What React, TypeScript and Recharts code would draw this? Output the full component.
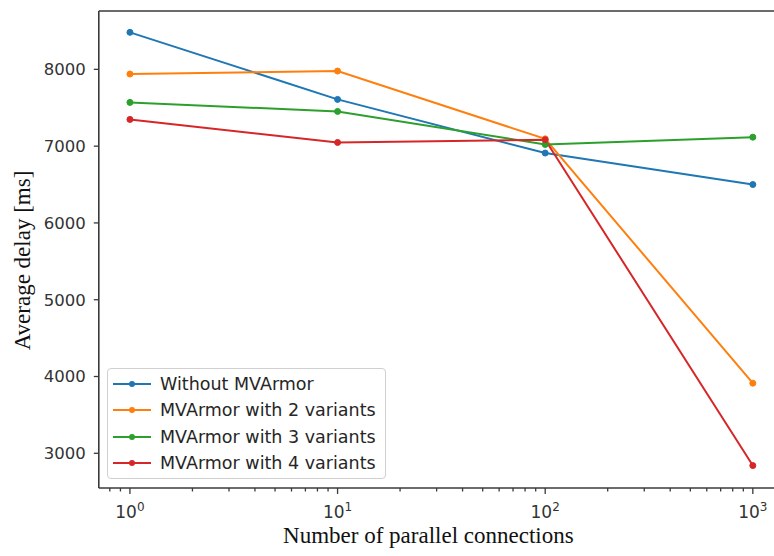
import {
  LineChart,
  Line,
  XAxis,
  YAxis,
  ReferenceLine,
} from "recharts";

const connections = [1, 10, 100, 1000];
const withoutMVArmor = [8482, 7609, 6910, 6500];
const twoVariants = [7939, 7978, 7095, 3913];
const threeVariants = [7570, 7452, 7022, 7117];
const fourVariants = [7348, 7048, 7083, 2840];

const seriesNames = [
  "Without MVArmor",
  "MVArmor with 2 variants",
  "MVArmor with 3 variants",
  "MVArmor with 4 variants",
];
const seriesKeys = ["s0", "s1", "s2", "s3"];
const colors = ["#1f77b4", "#ff7f0e", "#2ca02c", "#d62728"];

const yTicks = [3000, 4000, 5000, 6000, 7000, 8000];
const majorX = [1, 10, 100, 1000];
const minorX = [0.8, 0.9, 2, 3, 4, 5, 6, 7, 8, 9, 20, 30, 40, 50, 60, 70, 80, 90, 200, 300, 400, 500, 600, 700, 800, 900];

const data = connections.map((c, i) => ({
  x: c,
  s0: withoutMVArmor[i],
  s1: twoVariants[i],
  s2: threeVariants[i],
  s3: fourVariants[i],
}));

const spine = "#3a3a3a";
const tickFont = "'DejaVu Sans', sans-serif";
const serif = "'Liberation Serif', 'Times New Roman', serif";

function LogTick(props: any) {
  const { x, y, payload } = props;
  const v = payload.value;
  const exp = Math.round(Math.log10(v));
  const isMajor = majorX.includes(v);
  return (
    <g>
      <line x1={x} x2={x} y1={y} y2={y + (isMajor ? 6 : 3.5)} stroke={spine} strokeWidth={1.3} />
      {isMajor && (
        <text x={x} y={y + 30} textAnchor="middle" fontFamily={tickFont} fontSize={17} fill="#333">
          10
          <tspan dy={-7} fontSize={12}>
            {exp}
          </tspan>
        </text>
      )}
    </g>
  );
}

function XLabel(props: any) {
  const { viewBox } = props;
  return (
    <text
      x={viewBox.x + viewBox.width / 2 - 13}
      y={543}
      textAnchor="middle"
      fontFamily={serif}
      fontSize={23}
      fill="#111"
    >
      Number of parallel connections
    </text>
  );
}

function YLabel(props: any) {
  const { viewBox } = props;
  const cx = viewBox.x + 30;
  const cy = viewBox.y + viewBox.height / 2 + 11;
  return (
    <text
      x={cx}
      y={cy}
      transform={`rotate(-90 ${cx} ${cy})`}
      textAnchor="middle"
      fontFamily={serif}
      fontSize={23}
      fill="#111"
    >
      Average delay [ms]
    </text>
  );
}

function LegendBox() {
  return (
    <div
      style={{
        position: "absolute",
        left: 107,
        top: 368,
        width: 279,
        height: 111,
        border: "1px solid #d0d0d0",
        borderRadius: 4,
        background: "rgba(255,255,255,0.85)",
        boxSizing: "border-box",
        fontFamily: tickFont,
        fontSize: 17.5,
        color: "#262626",
      }}
    >
      {seriesNames.map((name, i) => (
        <div
          key={name}
          style={{ position: "absolute", left: 0, top: 2 + i * 26.3, height: 26, display: "flex", alignItems: "center" }}
        >
          <svg width={50} height={26}>
            <line x1={5} x2={43} y1={13} y2={13} stroke={colors[i]} strokeWidth={2.2} />
            <circle cx={24} cy={13} r={3} fill={colors[i]} />
          </svg>
          <span style={{ marginLeft: 2, whiteSpace: "nowrap" }}>{name}</span>
        </div>
      ))}
    </div>
  );
}

export default function App() {
  return (
    <div style={{ position: "absolute", left: 0, top: 0, width: 774, height: 556, overflow: "hidden", background: "#fff" }}>
      <LineChart width={784} height={556} data={data} margin={{ top: 11, right: 0, left: 0, bottom: 0 }}>
        <XAxis
          dataKey="x"
          type="number"
          scale="log"
          domain={[0.708, 1413]}
          allowDataOverflow
          ticks={[...majorX, ...minorX].sort((a, b) => a - b)}
          interval={0}
          tick={<LogTick />}
          tickLine={false}
          tickSize={0}
          tickMargin={0}
          height={68}
          axisLine={{ stroke: spine, strokeWidth: 1.6 }}
          label={<XLabel />}
        />
        <YAxis
          type="number"
          domain={[2548, 8760]}
          ticks={yTicks}
          allowDataOverflow
          width={98.8}
          tickSize={5}
          tickMargin={8}
          tick={{ fontFamily: tickFont, fontSize: 16.5, fill: "#333" }}
          tickLine={{ stroke: spine, strokeWidth: 1.3 }}
          axisLine={{ stroke: spine, strokeWidth: 1.6 }}
          label={<YLabel />}
        />
        <ReferenceLine y={8760} stroke={spine} strokeWidth={1.6} ifOverflow="extendDomain" />
        {seriesKeys.map((k, i) => (
          <Line
            key={k}
            dataKey={k}
            name={seriesNames[i]}
            stroke={colors[i]}
            strokeWidth={2}
            dot={{ r: 3, fill: colors[i], stroke: colors[i], strokeWidth: 1 }}
            activeDot={false}
            isAnimationActive={false}
          />
        ))}
      </LineChart>
      <LegendBox />
    </div>
  );
}
